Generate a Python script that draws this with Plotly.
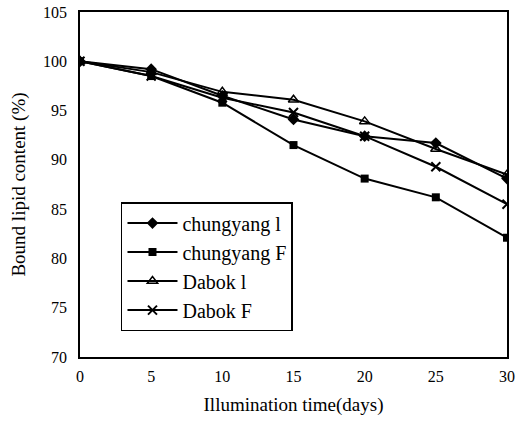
import plotly.graph_objects as go

days = [0, 5, 10, 15, 20, 25, 30]
chungyang_l = [100, 99.2, 96.5, 94.1, 92.4, 91.7, 88.1]
chungyang_f = [100, 98.5, 95.8, 91.5, 88.1, 86.2, 82.1]
dabok_l = [100, 98.9, 96.9, 96.1, 93.9, 91.1, 88.5]
dabok_f = [100, 98.5, 96.3, 94.8, 92.4, 89.3, 85.5]

series = [
    ("chungyang l", chungyang_l, dict(symbol="diamond", size=9, color="black")),
    ("chungyang F", chungyang_f, dict(symbol="square", size=8, color="black")),
    ("Dabok l", dabok_l, dict(symbol="triangle-up-open", size=9, color="black", line=dict(width=1.5, color="black"))),
    ("Dabok F", dabok_f, dict(symbol="x-thin-open", size=9, color="black", line=dict(width=2, color="black"))),
]

fig = go.Figure()
for name, vals, marker in series:
    fig.add_trace(go.Scatter(x=days, y=vals, name=name, mode="lines+markers",
                             line=dict(color="black", width=2), marker=marker))

serif = "Liberation Serif, Times New Roman, serif"
font = dict(family=serif, size=16, color="black")
fig.update_layout(
    width=528, height=426,
    margin=dict(l=80, r=21, t=12, b=69),
    paper_bgcolor="white", plot_bgcolor="white",
    font=font,
    showlegend=True,
    legend=dict(x=0.096, y=0.449, xanchor="left", yanchor="top",
                bordercolor="black", borderwidth=1.5, bgcolor="white",
                font=dict(family=serif, size=20, color="black"),
                itemwidth=50),
)
fig.update_xaxes(range=[0, 30], tickvals=days, showgrid=False, zeroline=False,
                 showline=True, linecolor="black", linewidth=1.5, mirror=True,
                 ticks="", ticklabelstandoff=4, automargin=False,
                 title=dict(text="Illumination time(days)", standoff=14))
fig.update_yaxes(range=[70, 105], tickvals=[70, 75, 80, 85, 90, 95, 100, 105],
                 showgrid=False, zeroline=False,
                 showline=True, linecolor="black", linewidth=1.5, mirror=True,
                 ticks="", ticklabelstandoff=8, automargin=False,
                 title=dict(text="Bound lipid content (%)", standoff=12))
fig.write_html("out.html", config={"displayModeBar": False},
               post_script="document.body.style.margin='0';")
